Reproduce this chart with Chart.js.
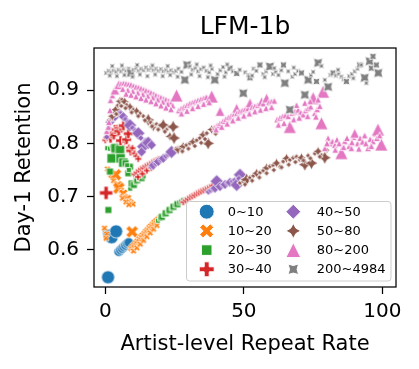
<!DOCTYPE html>
<html>
<head>
<meta charset="utf-8">
<script src="https://cdn.jsdelivr.net/npm/chart.js@4.4.1/dist/chart.umd.min.js"></script>
<style>
  html, body { margin: 0; padding: 0; background: #fff; }
  #wrap { width: 419px; height: 369px; }
</style>
</head>
<body>
<div id="wrap"><canvas id="chart" width="419" height="369"></canvas></div>
<script>
// --- Data: [repeat rate, day-1 retention, group weight (1 small .. 3 large)] ---
const groupLabels = ["0~10", "10~20", "20~30", "30~40", "40~50", "50~80", "80~200", "200~4984"];

const g0to10 = [
    [1.0, 0.549, 3], [0.2, 0.633, 1], [1.5, 0.627, 3], [2.3, 0.624, 3], [3.9, 0.635, 3],
    [4.9, 0.597, 2], [5.5, 0.600, 2], [6.1, 0.603, 2], [6.7, 0.606, 2], [7.3, 0.609, 2],
    [7.9, 0.612, 2], [8.5, 0.614, 2],
];
const g10to20 = [
    [-0.3, 0.641, 1], [0.5, 0.630, 1], [0.3, 0.622, 1],
    [0.8, 0.752, 1], [1.5, 0.746, 1], [2.5, 0.742, 2], [3.7, 0.741, 3], [3.0, 0.730, 1],
    [4.5, 0.722, 2], [4.9, 0.716, 3], [5.8, 0.712, 1], [6.5, 0.706, 2], [7.2, 0.700, 1],
    [7.9, 0.696, 2], [8.6, 0.692, 1], [9.3, 0.689, 1], [10.0, 0.686, 1], [6.2, 0.697, 1],
    [7.5, 0.690, 1], [8.5, 0.685, 1],
    [9.7, 0.634, 3],
    [9.2, 0.603, 1], [9.8, 0.607, 1], [10.4, 0.610, 1], [11.0, 0.614, 1], [11.6, 0.617, 1],
    [12.2, 0.621, 1], [12.8, 0.625, 1], [13.4, 0.628, 1], [14.0, 0.631, 1], [14.6, 0.635, 1],
    [15.2, 0.638, 1], [15.8, 0.642, 1], [16.4, 0.645, 1], [17.0, 0.648, 1], [17.6, 0.652, 1],
    [18.3, 0.655, 1], [19.0, 0.658, 1], [19.7, 0.661, 1],
    [10.2, 0.598, 1], [11.4, 0.604, 1], [12.6, 0.611, 1], [13.8, 0.618, 1], [15.0, 0.625, 1],
    [16.2, 0.632, 1], [17.4, 0.639, 1], [18.6, 0.646, 1],
];
const g20to30 = [
    [1.1, 0.675, 2],
    [0.7, 0.791, 1], [1.7, 0.790, 1], [2.5, 0.794, 1], [3.5, 0.784, 2], [3.7, 0.791, 3],
    [2.3, 0.772, 3], [5.3, 0.788, 3], [5.5, 0.772, 3], [6.5, 0.764, 3], [7.3, 0.763, 2],
    [8.3, 0.744, 2], [8.9, 0.756, 2], [1.7, 0.747, 2],
    [9.0, 0.715, 1], [9.5, 0.725, 2], [10.3, 0.722, 2], [11.0, 0.727, 1], [11.5, 0.731, 2],
    [12.2, 0.733, 1], [13.1, 0.735, 2], [13.8, 0.738, 1], [7.9, 0.759, 1], [8.5, 0.750, 1],
    [19.0, 0.655, 1], [19.7, 0.659, 1], [20.4, 0.662, 2], [21.1, 0.666, 1], [21.8, 0.669, 2],
    [22.5, 0.672, 1], [23.2, 0.675, 2], [23.9, 0.678, 1], [24.6, 0.681, 2], [25.3, 0.684, 1],
    [26.0, 0.686, 2], [26.7, 0.689, 1], [27.4, 0.691, 1], [28.1, 0.694, 1],
];
const g30to40 = [
    [0.3, 0.707, 3],
    [0.0, 0.806, 1], [0.5, 0.810, 1], [1.2, 0.814, 1], [1.9, 0.810, 2], [2.3, 0.818, 2],
    [3.1, 0.816, 2], [3.5, 0.826, 2], [4.3, 0.829, 1], [4.9, 0.823, 2], [5.5, 0.805, 2],
    [5.9, 0.826, 1], [6.5, 0.833, 2], [7.1, 0.803, 1], [7.7, 0.807, 2], [8.3, 0.818, 2],
    [8.5, 0.792, 1], [9.2, 0.786, 2], [9.8, 0.791, 1], [10.5, 0.781, 1], [11.2, 0.776, 1],
    [11.9, 0.771, 1],
    [10.5, 0.742, 1], [11.3, 0.745, 1], [12.1, 0.749, 1], [12.9, 0.752, 1], [13.7, 0.754, 1],
    [14.5, 0.757, 1], [15.3, 0.759, 1], [16.1, 0.761, 1], [16.9, 0.764, 1], [17.7, 0.766, 1],
    [18.5, 0.768, 1], [19.3, 0.770, 1], [11.8, 0.737, 1], [13.4, 0.743, 1], [15.0, 0.749, 1],
    [16.6, 0.754, 1],
    [28.2, 0.690, 1], [29.0, 0.693, 1], [29.8, 0.696, 1], [30.6, 0.699, 1], [31.4, 0.701, 1],
    [32.2, 0.703, 1], [33.0, 0.706, 1], [33.8, 0.708, 1], [34.6, 0.710, 1], [35.4, 0.712, 1],
    [36.2, 0.714, 1], [37.0, 0.716, 1], [37.8, 0.718, 1], [38.6, 0.720, 1],
];
const g40to50 = [
    [0.5, 0.812, 1], [1.3, 0.828, 1], [1.7, 0.840, 2], [2.5, 0.846, 1], [3.5, 0.850, 2],
    [4.1, 0.856, 1], [4.7, 0.859, 2], [5.5, 0.856, 1], [6.5, 0.850, 2], [7.3, 0.845, 1],
    [8.1, 0.840, 1], [8.9, 0.834, 3], [9.8, 0.829, 1], [10.8, 0.824, 1], [11.9, 0.819, 3],
    [12.8, 0.810, 1], [13.7, 0.794, 3], [14.5, 0.805, 1], [15.5, 0.801, 3], [16.7, 0.797, 2],
    [13.1, 0.784, 2], [16.5, 0.756, 1], [17.3, 0.759, 2], [18.2, 0.762, 1], [19.1, 0.766, 2],
    [20.0, 0.769, 1], [20.9, 0.772, 2], [21.8, 0.776, 1], [22.7, 0.779, 1], [23.9, 0.784, 3],
    [37.2, 0.709, 1], [38.0, 0.712, 1], [38.8, 0.714, 1], [39.6, 0.716, 2], [40.2, 0.729, 3],
    [41.4, 0.719, 2], [42.4, 0.721, 1], [43.2, 0.723, 2], [44.1, 0.725, 1], [45.0, 0.727, 2],
    [45.9, 0.729, 1], [46.7, 0.731, 1], [47.4, 0.722, 3], [48.6, 0.741, 3], [48.2, 0.734, 1],
];
const g50to80 = [
    [1.3, 0.843, 1], [2.5, 0.851, 2], [3.1, 0.857, 1], [3.7, 0.863, 2], [4.5, 0.871, 1],
    [5.3, 0.879, 2], [6.1, 0.882, 1], [7.0, 0.878, 2], [7.7, 0.872, 1], [8.9, 0.868, 2],
    [10.1, 0.863, 1], [11.3, 0.860, 2], [12.5, 0.856, 1], [13.7, 0.851, 1], [15.5, 0.844, 3],
    [16.4, 0.839, 1], [17.3, 0.831, 2], [18.5, 0.836, 1], [19.7, 0.833, 1], [20.9, 0.834, 3],
    [22.1, 0.826, 1], [23.3, 0.813, 2], [24.5, 0.831, 3], [24.8, 0.810, 3],
    [4.0, 0.855, 1], [5.8, 0.870, 1], [7.3, 0.866, 1], [9.5, 0.858, 1], [11.9, 0.851, 1],
    [14.3, 0.843, 1], [16.9, 0.832, 1], [19.1, 0.826, 1], [21.5, 0.822, 1],
    [25.6, 0.790, 1], [26.3, 0.788, 2], [27.2, 0.792, 1], [28.1, 0.794, 2], [29.3, 0.797, 1],
    [30.5, 0.800, 1], [31.7, 0.803, 2], [33.0, 0.806, 1], [34.1, 0.810, 1], [35.3, 0.816, 2],
    [36.6, 0.819, 1], [37.1, 0.800, 3], [38.4, 0.826, 2], [39.3, 0.829, 1], [40.2, 0.831, 1],
    [41.0, 0.834, 1],
    [27.8, 0.785, 1], [30.0, 0.790, 1], [32.3, 0.795, 1], [34.6, 0.801, 1], [36.0, 0.808, 1],
    [39.8, 0.818, 1],
    [48.6, 0.726, 1], [49.8, 0.729, 1], [51.0, 0.732, 3], [52.2, 0.736, 1], [53.4, 0.739, 1],
    [54.6, 0.744, 2], [55.8, 0.745, 1], [57.0, 0.749, 1], [58.2, 0.754, 2], [59.4, 0.757, 1],
    [60.6, 0.759, 1], [61.8, 0.763, 2], [63.0, 0.756, 1], [64.2, 0.766, 1], [65.4, 0.772, 2],
    [66.6, 0.769, 1], [67.8, 0.773, 1], [69.0, 0.775, 1], [70.2, 0.769, 1], [70.8, 0.773, 2],
    [72.0, 0.760, 3], [73.2, 0.777, 1], [74.4, 0.763, 3], [75.6, 0.781, 1], [76.8, 0.785, 2],
    [78.0, 0.778, 1], [79.2, 0.773, 3], [80.0, 0.787, 1],
    [50.4, 0.723, 1], [53.0, 0.730, 1], [55.6, 0.736, 1], [58.2, 0.744, 1], [60.8, 0.750, 1],
    [63.6, 0.755, 1], [66.2, 0.760, 1], [68.6, 0.765, 1], [71.5, 0.768, 1], [74.0, 0.772, 1],
    [77.4, 0.775, 1],
];
const g80to200 = [
    [0.5, 0.823, 1], [1.1, 0.831, 1], [1.3, 0.840, 1], [1.7, 0.862, 1], [1.9, 0.881, 1],
    [2.6, 0.890, 1], [3.5, 0.900, 2], [4.3, 0.908, 1], [4.9, 0.910, 2], [5.7, 0.912, 1],
    [6.6, 0.913, 1], [7.5, 0.912, 1], [8.4, 0.911, 1], [9.3, 0.910, 1], [10.2, 0.908, 1],
    [11.1, 0.906, 1], [12.0, 0.905, 1], [12.9, 0.903, 1], [13.8, 0.901, 1], [14.7, 0.899, 1],
    [15.6, 0.897, 1], [16.5, 0.895, 1], [17.4, 0.893, 1], [18.3, 0.890, 1], [19.2, 0.888, 1],
    [20.1, 0.886, 1], [21.0, 0.884, 1], [21.9, 0.882, 1], [22.8, 0.880, 1], [23.7, 0.878, 1],
    [25.7, 0.890, 3],
    [6.3, 0.902, 1], [8.1, 0.900, 1], [9.9, 0.898, 1], [11.7, 0.895, 1], [13.5, 0.892, 1],
    [15.3, 0.889, 1], [17.1, 0.886, 1], [18.9, 0.882, 1], [20.7, 0.878, 1], [22.5, 0.874, 1],
    [24.3, 0.871, 1],
    [7.5, 0.893, 1], [9.3, 0.891, 1], [11.1, 0.888, 1], [12.9, 0.885, 1], [14.7, 0.882, 1],
    [16.5, 0.879, 1], [18.3, 0.875, 1], [20.1, 0.871, 1], [21.9, 0.867, 1], [23.7, 0.864, 1],
    [26.5, 0.862, 1], [27.5, 0.866, 1], [28.5, 0.869, 1], [29.5, 0.872, 1], [30.5, 0.875, 1],
    [31.5, 0.877, 1], [32.5, 0.879, 1], [33.5, 0.881, 1], [34.5, 0.883, 1], [35.5, 0.885, 1],
    [36.5, 0.887, 1], [38.4, 0.888, 3], [27.5, 0.856, 1], [29.5, 0.861, 1], [31.5, 0.866, 1],
    [33.5, 0.870, 1], [35.5, 0.874, 1], [37.5, 0.877, 1],
    [39.5, 0.830, 1], [40.5, 0.834, 1], [41.4, 0.860, 2], [41.5, 0.838, 1], [42.5, 0.842, 1],
    [43.5, 0.846, 1], [44.5, 0.849, 1], [45.5, 0.852, 1], [46.5, 0.855, 1], [47.4, 0.866, 2],
    [47.5, 0.857, 1], [48.5, 0.860, 1], [49.5, 0.862, 1], [50.5, 0.864, 1], [51.5, 0.866, 1],
    [52.2, 0.876, 2], [53.0, 0.868, 1], [54.0, 0.870, 1], [55.0, 0.872, 1], [56.4, 0.878, 2],
    [57.0, 0.875, 1], [58.2, 0.885, 2], [59.0, 0.877, 1], [60.0, 0.879, 1], [61.0, 0.880, 1],
    [40.0, 0.826, 1], [42.0, 0.831, 1], [44.0, 0.837, 1], [46.0, 0.843, 1], [48.0, 0.848, 1],
    [50.0, 0.852, 1], [52.0, 0.856, 1], [54.0, 0.860, 1], [56.0, 0.863, 1], [58.0, 0.866, 1],
    [60.0, 0.868, 1],
    [62.0, 0.845, 1], [63.0, 0.848, 1], [64.0, 0.851, 1], [65.0, 0.853, 1], [66.0, 0.851, 1],
    [66.6, 0.831, 3], [67.5, 0.857, 1], [68.5, 0.860, 1], [69.6, 0.863, 1], [70.5, 0.858, 1],
    [71.4, 0.854, 1], [72.3, 0.862, 1], [73.2, 0.866, 1], [74.1, 0.869, 1], [75.0, 0.885, 3],
    [75.6, 0.857, 1], [76.5, 0.864, 1], [77.4, 0.870, 1], [78.0, 0.838, 3], [78.6, 0.897, 3],
    [62.5, 0.835, 1], [64.5, 0.838, 1], [68.0, 0.845, 1], [70.0, 0.848, 1], [73.0, 0.851, 1],
    [76.0, 0.850, 1], [69.0, 0.872, 1], [72.0, 0.876, 1], [74.0, 0.879, 1], [76.8, 0.882, 1],
    [79.2, 0.791, 1], [80.4, 0.810, 1], [81.2, 0.800, 1], [82.0, 0.804, 1], [82.8, 0.797, 1],
    [83.6, 0.807, 1], [84.4, 0.800, 1], [85.2, 0.782, 3], [86.4, 0.804, 1], [87.2, 0.810, 1],
    [88.0, 0.795, 1], [88.8, 0.791, 1], [89.6, 0.812, 1], [90.0, 0.819, 2], [91.0, 0.800, 1],
    [92.0, 0.810, 1], [92.8, 0.803, 1], [93.6, 0.815, 1], [94.8, 0.791, 1], [95.6, 0.808, 1],
    [96.6, 0.804, 1], [97.4, 0.818, 1], [98.4, 0.826, 3], [99.6, 0.798, 3],
    [80.0, 0.800, 1], [83.0, 0.788, 1], [86.0, 0.793, 1], [89.0, 0.802, 1], [91.5, 0.790, 1],
    [94.0, 0.800, 1], [96.0, 0.795, 1], [98.0, 0.810, 1], [99.0, 0.815, 1],
];
const g200to4984 = [
    [0.3, 0.932, 1], [1.2, 0.936, 1], [2.1, 0.933, 1], [3.0, 0.937, 1], [3.9, 0.934, 1],
    [4.8, 0.938, 1], [5.7, 0.935, 1], [6.6, 0.939, 1], [7.5, 0.936, 1], [8.4, 0.940, 1],
    [9.2, 0.932, 3], [10.2, 0.938, 1], [11.1, 0.941, 1], [12.0, 0.936, 1], [12.9, 0.940, 1],
    [13.8, 0.937, 1], [14.7, 0.942, 1], [15.6, 0.938, 1], [16.5, 0.941, 1], [17.4, 0.937, 1],
    [18.3, 0.940, 1], [19.2, 0.936, 1], [20.1, 0.939, 1], [21.0, 0.935, 1], [21.9, 0.938, 1],
    [22.8, 0.934, 1], [23.7, 0.937, 1], [24.6, 0.933, 1], [25.5, 0.936, 1],
    [1.6, 0.927, 1], [4.2, 0.926, 1], [6.9, 0.928, 1], [9.8, 0.925, 1], [12.5, 0.929, 1],
    [15.2, 0.926, 1], [18.0, 0.929, 1], [20.7, 0.926, 1], [23.4, 0.928, 1], [26.1, 0.925, 1],
    [2.5, 0.945, 1], [6.0, 0.946, 1], [11.5, 0.947, 1], [17.0, 0.946, 1], [22.5, 0.945, 1],
    [26.4, 0.940, 1], [27.5, 0.934, 1], [28.7, 0.919, 3], [29.5, 0.947, 3], [30.5, 0.944, 1],
    [31.5, 0.938, 1], [32.5, 0.941, 1], [33.5, 0.935, 1], [34.5, 0.939, 1], [35.5, 0.942, 1],
    [36.5, 0.936, 1], [37.5, 0.933, 1], [38.5, 0.940, 1], [39.5, 0.919, 3], [40.5, 0.930, 1],
    [41.5, 0.937, 1], [42.5, 0.943, 1], [43.5, 0.933, 1], [45.0, 0.941, 2], [46.0, 0.935, 1],
    [47.4, 0.931, 2], [48.5, 0.938, 1], [49.8, 0.894, 3],
    [31.0, 0.929, 1], [34.0, 0.926, 1], [37.0, 0.924, 1], [43.0, 0.925, 1], [33.0, 0.948, 1],
    [38.0, 0.946, 1], [44.0, 0.948, 1],
    [50.5, 0.933, 1], [51.5, 0.928, 1], [52.2, 0.923, 2], [53.5, 0.940, 1], [54.5, 0.936, 1],
    [55.8, 0.947, 2], [57.0, 0.930, 1], [58.0, 0.935, 1], [59.4, 0.944, 3], [60.5, 0.930, 1],
    [61.5, 0.934, 1], [62.5, 0.928, 1], [63.5, 0.937, 1], [64.3, 0.947, 2], [64.8, 0.913, 3],
    [66.0, 0.935, 1], [66.6, 0.863, 3], [67.5, 0.925, 1], [68.5, 0.930, 1], [69.5, 0.936, 1],
    [70.8, 0.932, 2], [72.0, 0.891, 3], [73.2, 0.919, 3], [74.2, 0.928, 1], [75.0, 0.934, 1],
    [76.2, 0.916, 2], [76.8, 0.951, 3], [78.0, 0.945, 1], [79.2, 0.919, 1], [80.4, 0.906, 3],
    [81.2, 0.928, 1], [82.2, 0.932, 2], [83.2, 0.927, 1], [84.2, 0.930, 1], [85.2, 0.925, 1],
    [86.0, 0.920, 1], [87.0, 0.916, 2], [88.0, 0.926, 1], [89.0, 0.930, 1], [90.0, 0.935, 1],
    [91.0, 0.940, 1], [91.8, 0.947, 2], [92.4, 0.947, 1], [93.6, 0.923, 3], [94.2, 0.913, 1],
    [95.4, 0.954, 3], [96.0, 0.941, 2], [96.6, 0.963, 2], [97.8, 0.947, 2], [98.5, 0.932, 3],
    [53.0, 0.927, 1], [57.5, 0.924, 1], [61.0, 0.941, 1], [68.0, 0.942, 1], [84.0, 0.938, 1],
    [89.5, 0.922, 1],
];
const groups = [g0to10, g10to20, g20to30, g30to40, g40to50, g50to80, g80to200, g200to4984];

const xTicks = [0, 50, 100];
const yTicks = [0.6, 0.7, 0.8, 0.9];

// --- Styles ---
const FONT = "DejaVu Sans";
const colors = ["#1f77b4", "#ff7f0e", "#2ca02c", "#d62728", "#9467bd", "#8c564b", "#e377c2", "#7f7f7f"];
const shapes = ["circle", "x", "square", "plus", "diamond", "star", "triangle", "starRot"];
const radiusForWeight = [0, 3.4, 4.9, 6.6];

// --- Marker drawing (seaborn-like filled markers with white edge) ---
function markerPath(ctx, shape, r) {
    ctx.beginPath();
    if (shape === "circle") {
        ctx.arc(0, 0, r, 0, Math.PI * 2);
        return;
    }
    let pts = [];
    if (shape === "square") {
        const s = r / Math.SQRT2;
        pts = [[-s, -s], [s, -s], [s, s], [-s, s]];
    } else if (shape === "diamond") {
        pts = [[0, -r], [r, 0], [0, r], [-r, 0]];
    } else if (shape === "triangle") {
        pts = [[0, -r], [r, r], [-r, r]];
    } else if (shape === "plus" || shape === "x") {
        const a = r / 3;
        pts = [[-a, -r], [a, -r], [a, -a], [r, -a], [r, a], [a, a], [a, r], [-a, r], [-a, a], [-r, a], [-r, -a], [-a, -a]];
    } else {
        for (let i = 0; i < 8; i++) {
            const ang = i * Math.PI / 4 - Math.PI / 2;
            const rr = i % 2 ? r * 0.5 : r;
            pts.push([rr * Math.cos(ang), rr * Math.sin(ang)]);
        }
    }
    const rot = (shape === "x" || shape === "starRot") ? Math.PI / 4 : 0;
    pts.forEach(([px, py], i) => {
        const x = px * Math.cos(rot) - py * Math.sin(rot);
        const y = px * Math.sin(rot) + py * Math.cos(rot);
        if (i === 0) ctx.moveTo(x, y); else ctx.lineTo(x, y);
    });
    ctx.closePath();
}

function drawMarker(ctx, shape, color, x, y, r, edge) {
    ctx.save();
    ctx.translate(x, y);
    markerPath(ctx, shape, r);
    ctx.fillStyle = color;
    ctx.fill();
    ctx.lineWidth = edge;
    ctx.strokeStyle = "#ffffff";
    ctx.stroke();
    ctx.restore();
}

const markerCache = {};
function markerImage(gi, w) {
    const key = gi + "_" + w;
    if (markerCache[key]) return markerCache[key];
    const r = radiusForWeight[w];
    const size = Math.ceil(2 * r + 3);
    const c = document.createElement("canvas");
    c.width = size;
    c.height = size;
    drawMarker(c.getContext("2d"), shapes[gi], colors[gi], size / 2, size / 2, r, 0.8);
    markerCache[key] = c;
    return c;
}

// --- Plugins: axes frame + boxed two-column legend ---
const framePlugin = {
    id: "frame",
    afterDatasetsDraw(chart) {
        const { ctx, chartArea: a } = chart;
        ctx.save();
        ctx.strokeStyle = "#000";
        ctx.lineWidth = 1.25;
        ctx.strokeRect(a.left, a.top, a.right - a.left, a.bottom - a.top);
        ctx.restore();
    },
};

const legendPlugin = {
    id: "boxLegend",
    afterDraw(chart) {
        const { ctx, chartArea: a } = chart;
        const bx = a.right - 210, by = a.bottom - 86, bw = 204.5, bh = 79.5;
        ctx.save();
        ctx.beginPath();
        ctx.roundRect(bx + 0.5, by + 0.5, bw, bh, 3);
        ctx.fillStyle = "rgba(255,255,255,0.8)";
        ctx.fill();
        ctx.strokeStyle = "#cccccc";
        ctx.lineWidth = 1;
        ctx.stroke();
        ctx.font = "13px '" + FONT + "'";
        ctx.textBaseline = "middle";
        ctx.textAlign = "left";
        ctx.fillStyle = "#000";
        groupLabels.forEach((label, i) => {
            const col = Math.floor(i / 4), row = i % 4;
            const cy = by + 10.7 + row * 19.2;
            const mx = bx + 20.7 + col * 86.6;
            const tx = bx + 41.7 + col * 89;
            drawMarker(ctx, shapes[i], colors[i], mx, cy, 7.5, 1);
            ctx.fillStyle = "#000";
            ctx.fillText(label, tx, cy + 0.5);
        });
        ctx.restore();
    },
};

// --- Chart ---
const datasets = groups.map((g, gi) => ({
    label: groupLabels[gi],
    data: g.map(([x, y, w]) => ({ x: x, y: y, w: w })),
    order: groups.length - gi,
    pointStyle: (c) => markerImage(gi, c.raw ? c.raw.w : 1),
    pointRadius: (c) => radiusForWeight[c.raw ? c.raw.w : 1],
    backgroundColor: colors[gi],
    borderColor: "#fff",
}));

const axisTitle = (text, pad) => ({
    display: true,
    text: text,
    color: "#000",
    font: { family: FONT, size: 21 },
    padding: pad,
});

new Chart(document.getElementById("chart").getContext("2d"), {
    type: "scatter",
    data: { datasets: datasets },
    plugins: [framePlugin, legendPlugin],
    options: {
        responsive: false,
        animation: false,
        devicePixelRatio: 1,
        layout: { padding: { left: 0, right: 23, top: 0, bottom: 0 } },
        plugins: {
            legend: { display: false },
            tooltip: { enabled: false },
            title: {
                display: true,
                text: "LFM-1b",
                color: "#000",
                fullSize: false,
                font: { family: FONT, size: 25, weight: "normal" },
                padding: { top: 12, bottom: 6 },
            },
        },
        scales: {
            x: {
                type: "linear",
                min: -4.07,
                max: 104.9,
                afterBuildTicks: (s) => { s.ticks = xTicks.map((v) => ({ value: v })); },
                afterFit: (s) => { s.height = 82; },
                border: { display: false },
                grid: { drawOnChartArea: false, drawTicks: true, tickLength: 7, tickColor: "#000", tickWidth: 1.25 },
                ticks: {
                    color: "#000",
                    font: { family: FONT, size: 20 },
                    padding: 6,
                    maxRotation: 0,
                    callback: (v) => String(v),
                },
                title: axisTitle("Artist-level Repeat Rate", { top: 0, bottom: 12 }),
            },
            y: {
                type: "linear",
                min: 0.5306,
                max: 0.9788,
                afterBuildTicks: (s) => { s.ticks = yTicks.map((v) => ({ value: v })); },
                afterFit: (s) => { s.width = 94; },
                border: { display: false },
                grid: { drawOnChartArea: false, drawTicks: true, tickLength: 7, tickColor: "#000", tickWidth: 1.25 },
                ticks: {
                    color: "#000",
                    font: { family: FONT, size: 20 },
                    padding: 8,
                    callback: (v) => v.toFixed(1),
                },
                title: axisTitle("Day-1 Retention", { top: 12, bottom: 0 }),
            },
        },
    },
});
</script>
</body>
</html>
